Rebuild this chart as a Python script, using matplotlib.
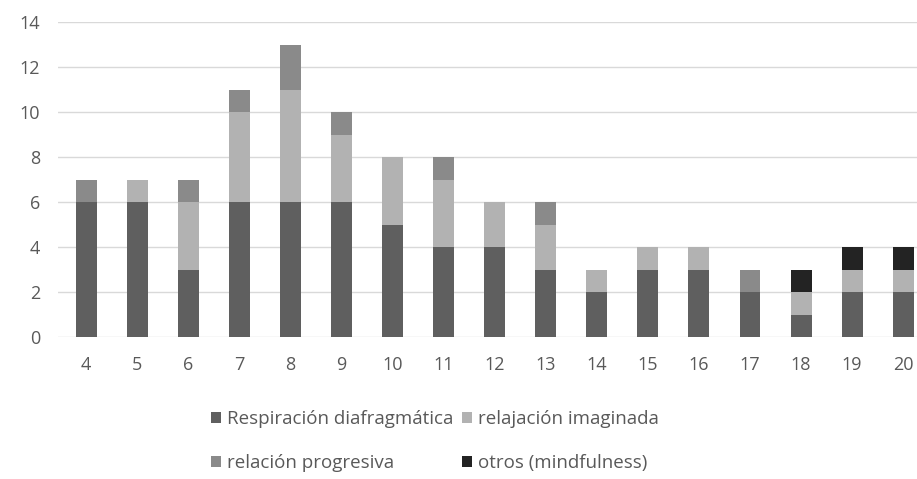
import matplotlib
matplotlib.use('Agg')
import matplotlib.pyplot as plt
import numpy as np

# categories and stacked counts per technique
categorias = [4, 5, 6, 7, 8, 9, 10, 11, 12, 13, 14, 15, 16, 17, 18, 19, 20]
respiracion = [6, 6, 3, 6, 6, 6, 5, 4, 4, 3, 2, 3, 3, 2, 1, 2, 2]
imaginada = [0, 1, 3, 4, 5, 3, 3, 3, 2, 2, 1, 1, 1, 0, 1, 1, 1]
progresiva = [1, 0, 1, 1, 2, 1, 0, 1, 0, 1, 0, 0, 0, 1, 0, 0, 0]
otros = [0, 0, 0, 0, 0, 0, 0, 0, 0, 0, 0, 0, 0, 0, 1, 1, 1]
y_ticks = [0, 2, 4, 6, 8, 10, 12, 14]

plt.rcParams['font.family'] = ['Open Sans', 'DejaVu Sans']
TXT = '#595959'

W, H = 917, 479
fig = plt.figure(figsize=(W / 100, H / 100), dpi=100)
ax = fig.add_axes([58 / W, (H - 337) / H, (W - 58) / W, (337 - 22) / H])

x = np.array(categorias, float)
bw = 0.41
series = [
    ('Respiración diafragmática', respiracion, '#5f5f5f'),
    ('relajación imaginada', imaginada, '#b2b2b2'),
    ('relación progresiva', progresiva, '#8a8a8a'),
    ('otros (mindfulness)', otros, '#232323'),
]
bottom = np.zeros(len(x))
handles = {}
for name, vals, col in series:
    v = np.array(vals, float)
    b = ax.bar(x, v, bw, bottom=bottom, color=col, edgecolor='none', label=name, zorder=3)
    handles[name] = b
    bottom += v

ax.set_xlim(3.45, 20.27)
ax.set_ylim(0, 14)
ax.set_yticks(y_ticks)
ax.set_xticks(categorias)
ax.yaxis.grid(True, color='#d9d9d9', lw=1.0, zorder=0)
ax.set_axisbelow(True)
for s in ax.spines.values():
    s.set_visible(False)
ax.tick_params(length=0, colors=TXT, labelsize=13)
ax.tick_params(axis='y', pad=13)
ax.tick_params(axis='x', pad=14)

order = ['Respiración diafragmática', 'relación progresiva',
         'relajación imaginada', 'otros (mindfulness)']
fig.legend([handles[n] for n in order], order, ncol=2, frameon=False,
           loc='upper left', bbox_to_anchor=(196 / W, 1 - 395 / H),
           fontsize=13.5, labelcolor=TXT, handlelength=0.55, handleheight=0.55,
           handletextpad=0.3, columnspacing=0.45, labelspacing=1.4,
           borderpad=0.3)

fig.savefig('out.png', dpi=100)
